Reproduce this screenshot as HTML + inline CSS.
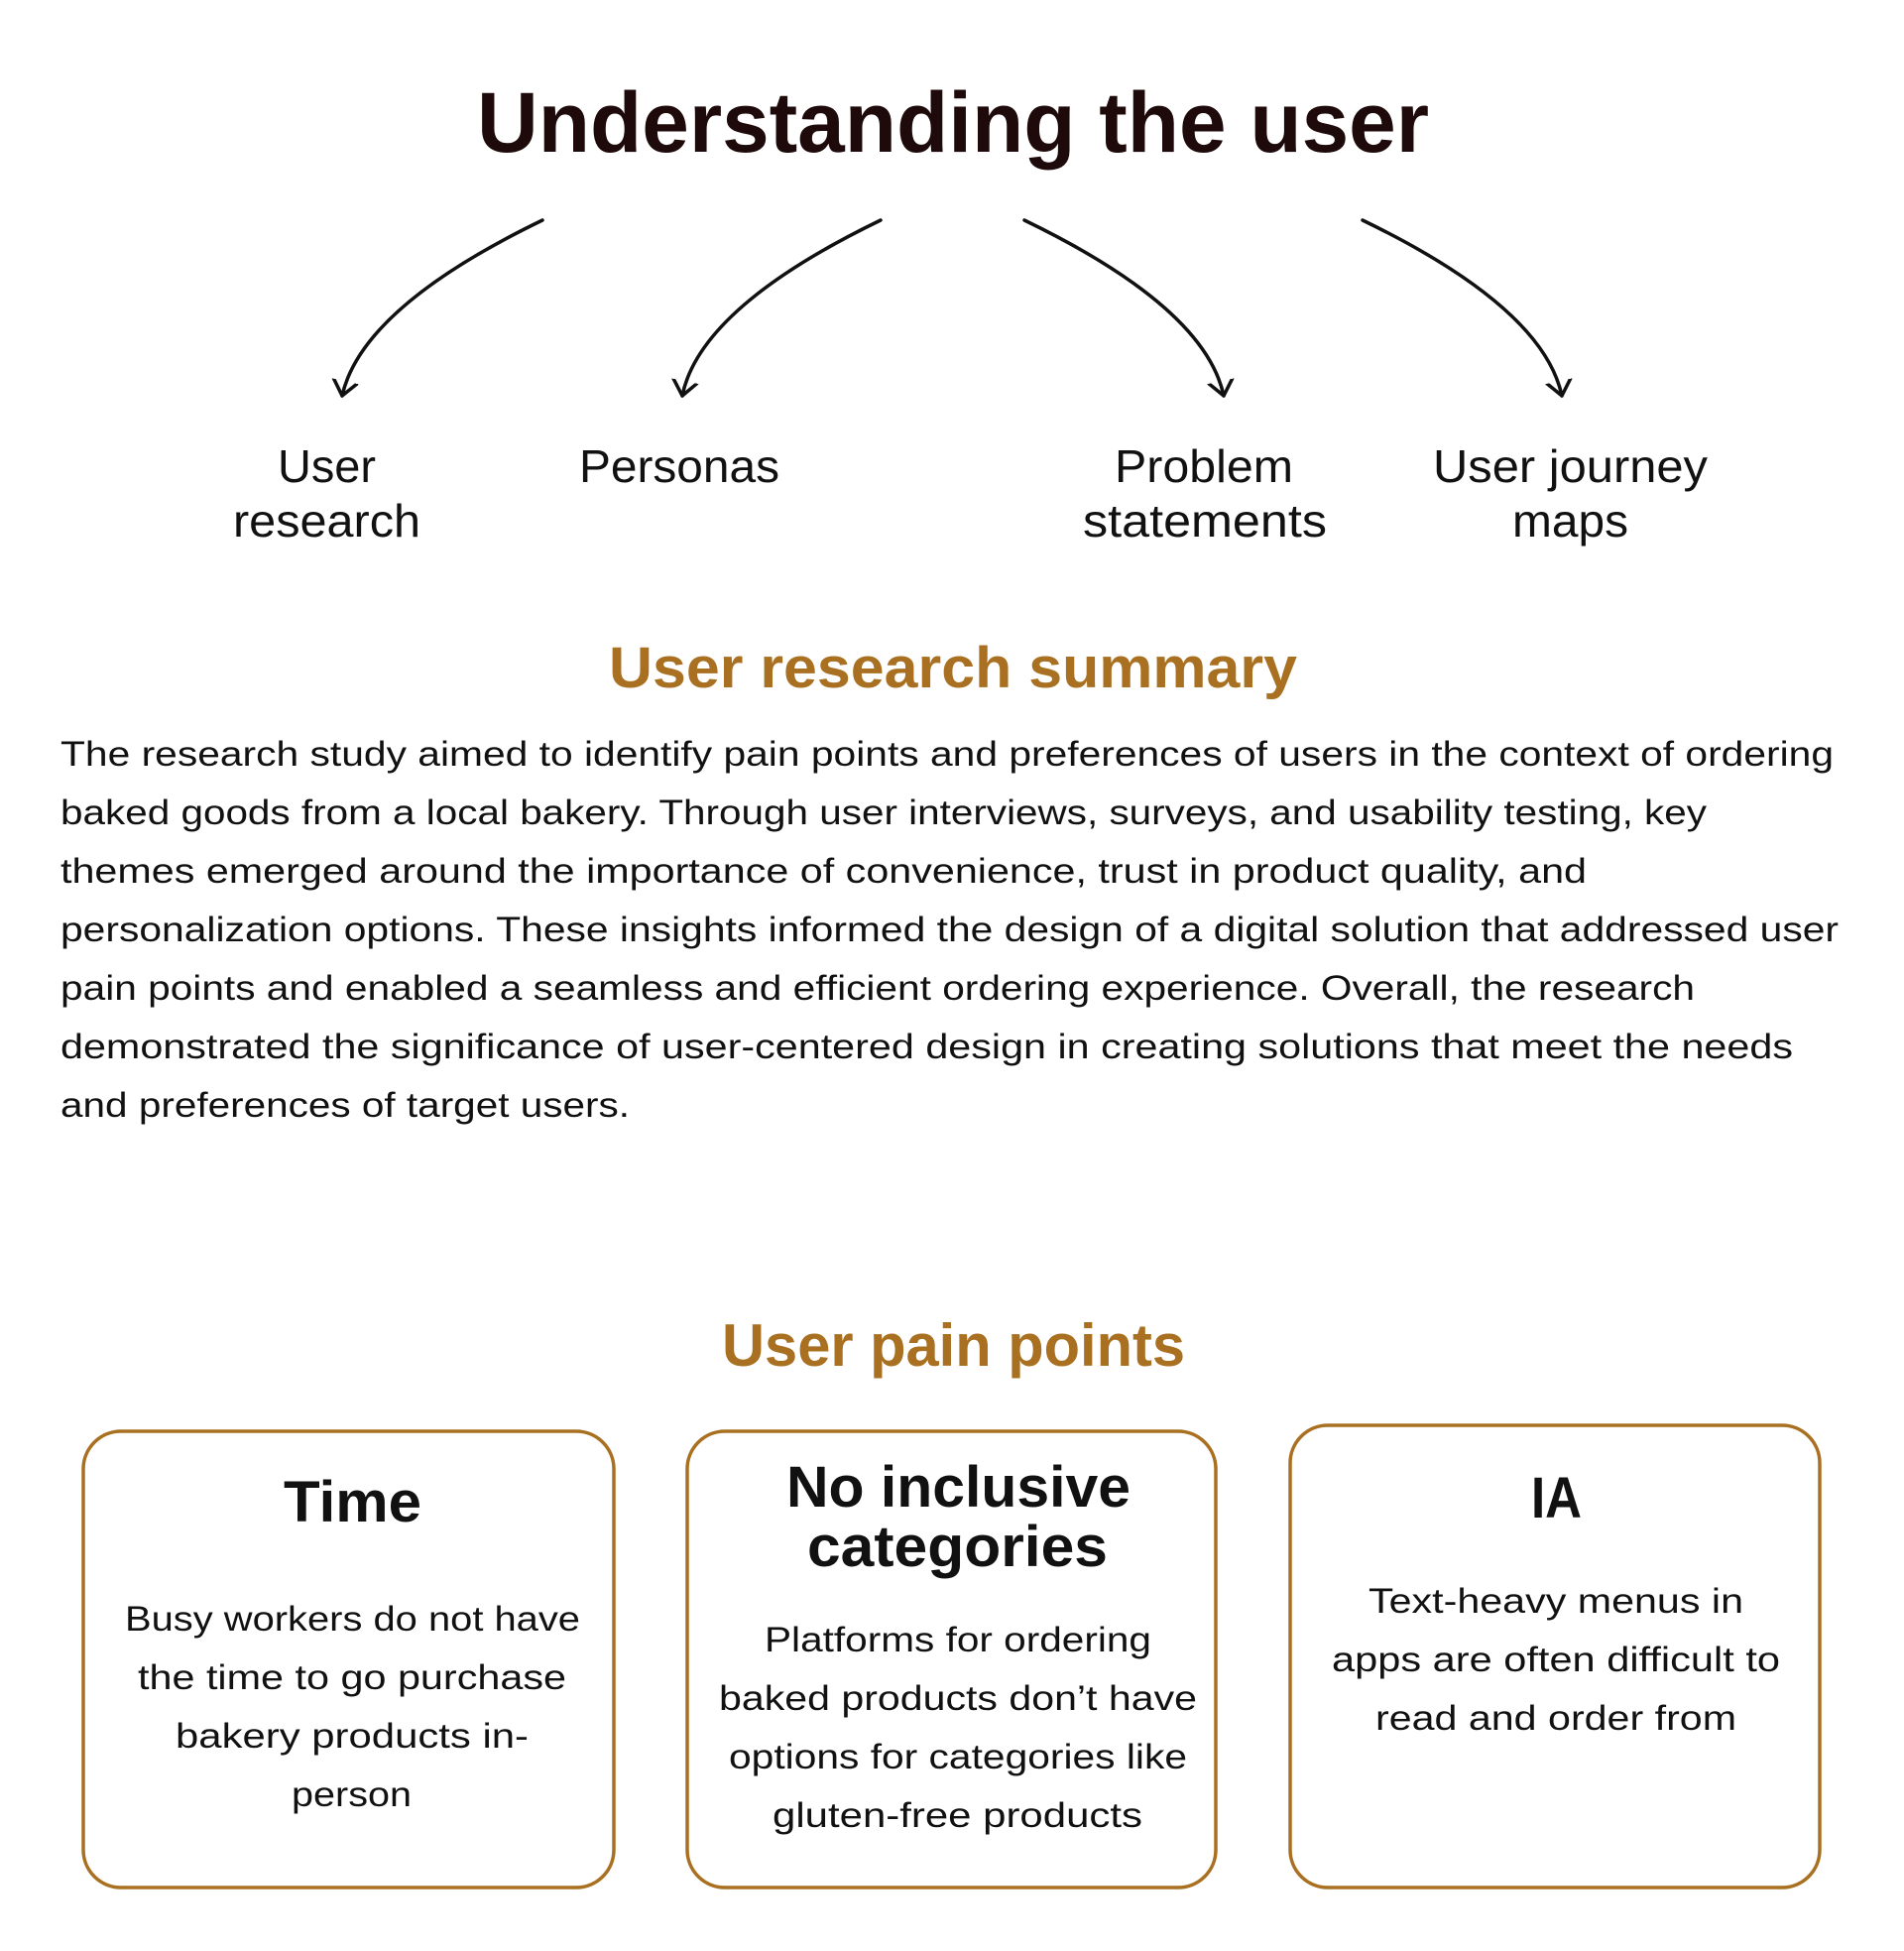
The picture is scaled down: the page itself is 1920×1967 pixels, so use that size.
<!DOCTYPE html>
<html><head><meta charset="utf-8"><style>html,body{margin:0;padding:0;background:#fff}svg{display:block}</style></head>
<body>
<svg width="1920" height="1967" viewBox="0 0 1920 1967" xmlns="http://www.w3.org/2000/svg" font-family="Liberation Sans, sans-serif">
<defs>
<marker id="ah" markerWidth="30" markerHeight="30" refX="15" refY="15" orient="auto" markerUnits="userSpaceOnUse">
<polyline points="0,3 15,15 0,27" fill="none" stroke="#111" stroke-width="3.5" stroke-linecap="round" stroke-linejoin="round"/>
</marker>
</defs>
<text x="961" y="153" font-size="86" font-weight="bold" fill="#1e0a0a" text-anchor="middle" textLength="960" lengthAdjust="spacingAndGlyphs">Understanding the user</text>
<g fill="none" stroke="#111" stroke-width="3.5" stroke-linecap="round">
<path d="M547,222 Q365,310 345,399" marker-end="url(#ah)"/>
<path d="M888,222 Q706,310 688,399" marker-end="url(#ah)"/>
<path d="M1033,222 Q1215,310 1234,399" marker-end="url(#ah)"/>
<path d="M1374,222 Q1556,310 1575,399" marker-end="url(#ah)"/>
</g>
<g font-size="46" fill="#111">
<text x="280" y="486" textLength="99" lengthAdjust="spacingAndGlyphs">User</text>
<text x="235" y="541" textLength="189" lengthAdjust="spacingAndGlyphs">research</text>
<text x="584" y="486" textLength="202" lengthAdjust="spacingAndGlyphs">Personas</text>
<text x="1124" y="486" textLength="180" lengthAdjust="spacingAndGlyphs">Problem</text>
<text x="1092" y="541" textLength="246" lengthAdjust="spacingAndGlyphs">statements</text>
<text x="1445" y="486" textLength="277" lengthAdjust="spacingAndGlyphs">User journey</text>
<text x="1525" y="541" textLength="117" lengthAdjust="spacingAndGlyphs">maps</text>
</g>
<text x="614" y="693" font-size="58" font-weight="bold" fill="#a87020" textLength="694" lengthAdjust="spacingAndGlyphs">User research summary</text>
<g font-size="35" fill="#111">
<text x="61" y="772" textLength="1788" lengthAdjust="spacingAndGlyphs">The research study aimed to identify pain points and preferences of users in the context of ordering</text>
<text x="61" y="831" textLength="1660" lengthAdjust="spacingAndGlyphs">baked goods from a local bakery. Through user interviews, surveys, and usability testing, key</text>
<text x="61" y="890" textLength="1539" lengthAdjust="spacingAndGlyphs">themes emerged around the importance of convenience, trust in product quality, and</text>
<text x="61" y="949" textLength="1793" lengthAdjust="spacingAndGlyphs">personalization options. These insights informed the design of a digital solution that addressed user</text>
<text x="61" y="1008" textLength="1648" lengthAdjust="spacingAndGlyphs">pain points and enabled a seamless and efficient ordering experience. Overall, the research</text>
<text x="61" y="1067" textLength="1747" lengthAdjust="spacingAndGlyphs">demonstrated the significance of user-centered design in creating solutions that meet the needs</text>
<text x="61" y="1126" textLength="574" lengthAdjust="spacingAndGlyphs">and preferences of target users.</text>
</g>
<text x="728" y="1377" font-size="60" font-weight="bold" fill="#a87020" textLength="467" lengthAdjust="spacingAndGlyphs">User pain points</text>
<g fill="none" stroke="#a87020" stroke-width="3.5">
<rect x="84" y="1443" width="535" height="460" rx="38"/>
<rect x="693" y="1443" width="533" height="460" rx="38"/>
<rect x="1301" y="1437" width="534" height="466" rx="38"/>
</g>
<g font-size="58" font-weight="bold" fill="#111">
<text x="286" y="1534" textLength="139" lengthAdjust="spacingAndGlyphs">Time</text>
<text x="793" y="1519" textLength="347" lengthAdjust="spacingAndGlyphs">No inclusive</text>
<text x="814" y="1579" textLength="303" lengthAdjust="spacingAndGlyphs">categories</text>
<text x="1544" y="1530" textLength="51" lengthAdjust="spacingAndGlyphs">IA</text>
</g>
<g font-size="35" fill="#111">
<text x="126" y="1644" textLength="459" lengthAdjust="spacingAndGlyphs">Busy workers do not have</text>
<text x="139" y="1703" textLength="432" lengthAdjust="spacingAndGlyphs">the time to go purchase</text>
<text x="177" y="1762" textLength="356" lengthAdjust="spacingAndGlyphs">bakery products in-</text>
<text x="294" y="1821" textLength="121" lengthAdjust="spacingAndGlyphs">person</text>
<text x="771" y="1665" textLength="390" lengthAdjust="spacingAndGlyphs">Platforms for ordering</text>
<text x="725" y="1724" textLength="482" lengthAdjust="spacingAndGlyphs">baked products don’t have</text>
<text x="735" y="1783" textLength="462" lengthAdjust="spacingAndGlyphs">options for categories like</text>
<text x="779" y="1842" textLength="373" lengthAdjust="spacingAndGlyphs">gluten-free products</text>
<text x="1380" y="1626" textLength="378" lengthAdjust="spacingAndGlyphs">Text-heavy menus in</text>
<text x="1343" y="1685" textLength="452" lengthAdjust="spacingAndGlyphs">apps are often difficult to</text>
<text x="1387" y="1744" textLength="364" lengthAdjust="spacingAndGlyphs">read and order from</text>
</g>
</svg>
</body></html>
